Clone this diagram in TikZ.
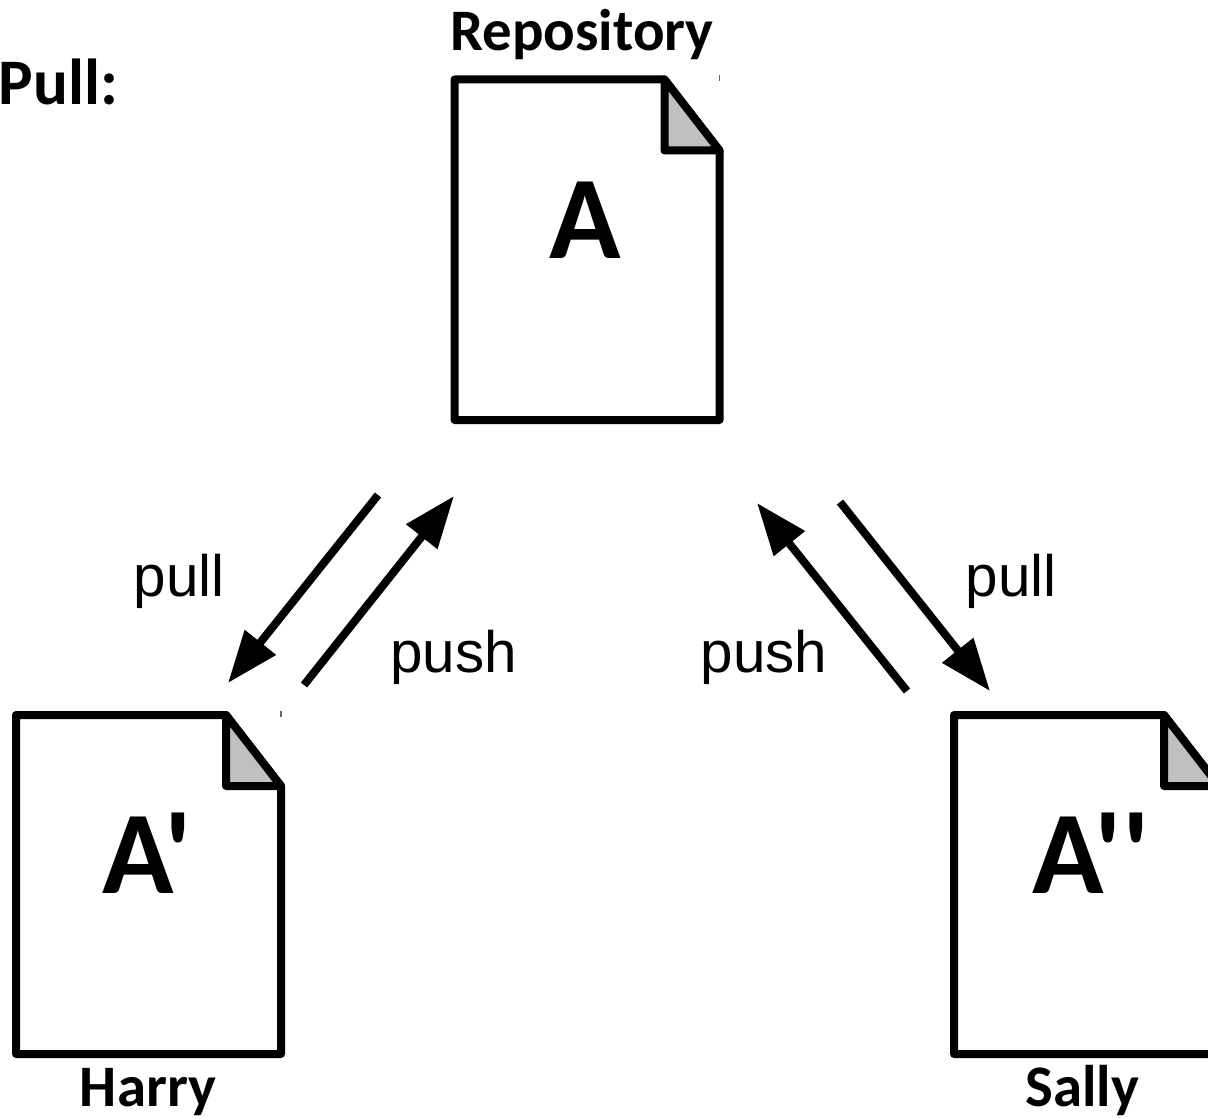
\documentclass[tikz,border=0pt]{standalone}
\usepackage{fontspec}
\setmainfont{Carlito}
\newfontfamily\letterfont{Carlito}
\newfontfamily\labelfont{Liberation Sans}
\usetikzlibrary{arrows.meta}
\definecolor{foldgray}{HTML}{C0C0C0}
% sheet with folded corner: left, top, right, bottom
\newcommand{\gitfile}[4]{
\path[draw, sheet] (#1,#2) -- (#3-55,#2) -- (#3,#2+71) -- (#3,#4) -- (#1,#4) -- cycle;
\path[draw, sheet, fill=foldgray] (#3-55,#2) -- (#3,#2+71) -- (#3-55,#2+71) -- cycle;
\path[draw, mark tick] (#3,#2-4) -- (#3,#2+2);
}

\begin{document}
\begin{tikzpicture}[
    x=0.5pt, y=-0.5pt,
    sheet/.style={line width=4pt, line join=round, line cap=round},
    mark tick/.style={line width=0.6pt, black!60},
    link/.style={line width=4pt, -{Triangle[length=26pt, width=19pt]}},
    title/.style={font=\bfseries\fontsize{29.4}{29.4}\selectfont, anchor=base, inner sep=0},
    letter/.style={font=\letterfont\bfseries\fontsize{59}{59}\selectfont, anchor=base, inner sep=0},
    action/.style={font=\labelfont\fontsize{29.2}{29.2}\selectfont, anchor=base, inner sep=0}]
\useasboundingbox (0,0) rectangle (1208,1118);
\clip (0,0) rectangle (1208,1118);

\gitfile{454.5}{79.5}{719.5}{420}
\gitfile{16}{715}{281}{1054}
\gitfile{954}{715}{1219}{1054}

\node[title, font=\bfseries\fontsize{32.5}{32.5}\selectfont] (pulltitle) at (58.5,105) {Pull:};
\node[title] (repository) at (582,51) {Repository};
\node[title] (harry) at (148,1106) {Harry};
\node[title] (sally) at (1082,1106) {Sally};

\node[letter] (filea) at (585,258) {A};
\node[letter] (fileharry) at (147.5,893) {A'};
\node[letter] (filesally) at (1091,893) {A''};

\node[action] (harrypull) at (179,596) {pull};
\node[action] (harrypush) at (453.5,672) {push};
\node[action] (sallypush) at (764,672) {push};
\node[action] (sallypull) at (1011,596) {pull};

% free ends of the connectors
\coordinate (harrypullfrom) at (378,495);
\coordinate (harrypullto) at (228,683);
\coordinate (harrypushfrom) at (304,685);
\coordinate (harrypushto) at (454,496);
\coordinate (sallypushfrom) at (907,691);
\coordinate (sallypushto) at (757,503);
\coordinate (sallypullfrom) at (840,502);
\coordinate (sallypullto) at (990,691);

\path[draw, link] (harrypullfrom) -- (harrypullto);
\path[draw, link] (harrypushfrom) -- (harrypushto);
\path[draw, link] (sallypushfrom) -- (sallypushto);
\path[draw, link] (sallypullfrom) -- (sallypullto);

\end{tikzpicture}
\end{document}
